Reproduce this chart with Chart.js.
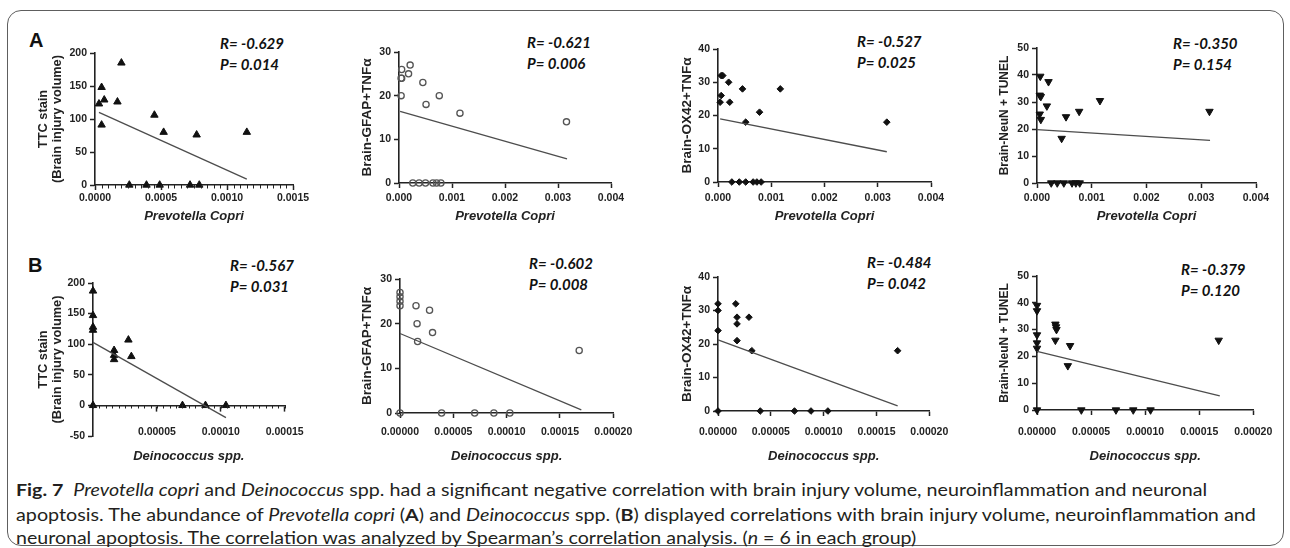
<!DOCTYPE html>
<html>
<head>
<meta charset="utf-8">
<script src="https://cdn.jsdelivr.net/npm/chart.js@4.4.1/dist/chart.umd.min.js"></script>
<style>
  body { margin: 0; width: 1290px; height: 548px; background: #fff; overflow: hidden; position: relative; }
  .frame { position: absolute; left: 7px; top: 10px; width: 1275px; height: 534px; border: 1.5px solid #5e5e5e; border-radius: 14px; }
  canvas { position: absolute; }
  .lbl { position: absolute; font: bold 20px 'Liberation Sans', Arial, sans-serif; line-height: 20px; color: #111; }
  .stat { position: absolute; font: italic bold 15px Lato, sans-serif; line-height: 16px; color: #111; white-space: nowrap; }
  .cap { position: absolute; left: 16px; font: 17.5px Lato, sans-serif; line-height: 20px; color: #231f20; white-space: nowrap; transform-origin: 0 50%; }
</style>
</head>
<body>
<div class="frame"></div>
<div class="lbl" style="left:29px;top:30px">A</div>
<div class="lbl" style="left:28px;top:255px">B</div>
<div id="stats"></div>
<div class="cap" data-w="1191" style="top:480px"><b>Fig. 7</b>&nbsp; <i>Prevotella copri</i> and <i>Deinococcus</i> spp. had a significant negative correlation with brain injury volume, neuroinflammation and neuronal</div>
<div class="cap" data-w="1240" style="top:505px">apoptosis. The abundance of <i>Prevotella copri</i> (<b>A</b>) and <i>Deinococcus</i> spp. (<b>B</b>) displayed correlations with brain injury volume, neuroinflammation and</div>
<div class="cap" data-w="900" style="top:528px">neuronal apoptosis. The correlation was analyzed by Spearman’s correlation analysis. (<i>n</i> = 6 in each group)</div>
<script>
// values

// A: Prevotella copri
const aTtcX = [0.00003, 0.00005, 0.00007, 0.00005, 0.00017, 0.0002, 0.00045, 0.00052, 0.00077, 0.00115, 0.00026, 0.00039, 0.00049, 0.00072, 0.00079];
const aTtcY = [123, 148, 129, 91, 126, 185, 106, 80, 76, 80, 0, 0, 0, 0, 0];
const aTtcFitX = [0.00003, 0.00115];
const aTtcFitY = [110, 9];

const aGfapX = [0.00005, 0.00004, 0.00005, 0.00004, 0.00021, 0.00018, 0.00045, 0.00051, 0.00076, 0.00115, 0.00316, 0.00026, 0.00038, 0.0005, 0.00064, 0.00071, 0.00079];
const aGfapY = [26, 24, 24, 20, 27, 25, 23, 18, 20, 16, 14, 0, 0, 0, 0, 0, 0];
const aGfapFitX = [0.00002, 0.00317];
const aGfapFitY = [16.4, 5.5];

const aOx42X = [0.00006, 0.00009, 0.00006, 0.00004, 0.0002, 0.00022, 0.00046, 0.00052, 0.00078, 0.00117, 0.00317, 0.00026, 0.0004, 0.00052, 0.00066, 0.00073, 0.00081];
const aOx42Y = [32, 32, 26, 24, 30, 24, 28, 18, 21, 28, 18, 0, 0, 0, 0, 0, 0];
const aOx42FitX = [0.00004, 0.00317];
const aOx42FitY = [19, 9.1];

const aNeunX = [0.00006, 0.00005, 0.00007, 0.00005, 0.00007, 0.00021, 0.00018, 0.00045, 0.00053, 0.00077, 0.00115, 0.00315, 0.00026, 0.00037, 0.00049, 0.00064, 0.00071, 0.00078];
const aNeunY = [39.5, 32.5, 32, 25.5, 23.5, 37.5, 28.5, 16.5, 24.5, 26.5, 30.5, 26.5, 0, 0, 0, 0, 0, 0];
const aNeunFitX = [0, 0.00316];
const aNeunFitY = [19.8, 15.8];

// B: Deinococcus spp.
const bTtcX = [0, 0, 0, 0, 0.0000165, 0.0000165, 0.0000165, 0.0000277, 0.00003, 0, 0.00007, 0.000088, 0.000104];
const bTtcY = [187, 147, 128, 123, 90, 82, 75, 107, 80, 0, 0, 0, 0];
const bTtcFitX = [0, 0.000104];
const bTtcFitY = [103, -20];

const bGfapX = [0, 0, 0, 0, 0.000015, 0.000016, 0.0000165, 0.0000277, 0.0000305, 0.000168, 0, 0.000039, 0.00007, 0.000088, 0.000103];
const bGfapY = [27, 26, 25, 24, 24, 20, 16, 23, 18, 14, 0, 0, 0, 0, 0];
const bGfapFitX = [0, 0.00017];
const bGfapFitY = [17.8, 0.7];

const bOx42X = [0, 0, 0, 0.0000168, 0.000018, 0.000018, 0.000018, 0.0000293, 0.000032, 0.00017, 0, 0.00004, 0.0000724, 0.000088, 0.000104];
const bOx42Y = [32, 30, 24, 32, 28, 26, 21, 28, 18, 18, 0, 0, 0, 0, 0];
const bOx42FitX = [0, 0.00017];
const bOx42FitY = [21.2, 1.5];

const bNeunX = [0, 0, 0, 0, 0, 0.000017, 0.0000176, 0.000018, 0.000017, 0.0000306, 0.0000285, 0.000168, 0, 0.000041, 0.000073, 0.000089, 0.000105];
const bNeunY = [39, 37, 28, 25, 23, 32, 31, 30, 26, 24, 16.5, 26, 0, 0, 0, 0, 0];
const bNeunFitX = [0, 0.000169];
const bNeunFitY = [21.9, 5.3];

// tick labels
const xTicksA1 = [0, 0.0005, 0.001, 0.0015];
const xTicksA = [0, 0.001, 0.002, 0.003, 0.004];
const xTicksB1 = [0.00005, 0.0001, 0.00015];
const xTicksB = [0, 0.00005, 0.0001, 0.00015, 0.0002];
const yTicksTtcA = [0, 50, 100, 150, 200];
const yTicksTtcB = [-50, 0, 50, 100, 150, 200];
const yTicksGfap = [0, 10, 20, 30];
const yTicksOx42 = [0, 10, 20, 30, 40];
const yTicksNeun = [0, 10, 20, 30, 40, 50];

// correlation labels
const rValues = ['-0.629', '-0.621', '-0.527', '-0.350', '-0.567', '-0.602', '-0.484', '-0.379'];
const pValues = ['0.014', '0.006', '0.025', '0.154', '0.031', '0.008', '0.042', '0.120'];

const AXIS = '#222';
const FONT = "'Liberation Sans', Arial, sans-serif";

const markers = {
  up: { pointStyle: 'triangle', pointRadius: 4.3, backgroundColor: '#111', borderColor: '#111', borderWidth: 1 },
  open: { pointStyle: 'circle', pointRadius: 3.1, backgroundColor: 'rgba(255,255,255,0)', borderColor: '#555', borderWidth: 1.3 },
  diamond: { pointStyle: 'rectRot', pointRadius: 3.3, backgroundColor: '#111', borderColor: '#111', borderWidth: 1 },
  down: { pointStyle: 'triangle', pointRotation: 180, pointRadius: 4.3, backgroundColor: '#111', borderColor: '#111', borderWidth: 1 }
};

// small minor ticks on the x axis (panels with TTC stain)
const minorTicks = {
  id: 'minorTicks',
  afterDraw(chart, args, opts) {
    if (!opts.step) return;
    const xs = chart.scales.x;
    const y0 = Math.round(chart.scales.y.getPixelForValue(0));
    const n = Math.round((xs.max - xs.min) / opts.step);
    const ctx = chart.ctx;
    ctx.save();
    ctx.strokeStyle = AXIS;
    ctx.lineWidth = 1;
    for (let i = 0; i <= n; i++) {
      const px = Math.round(xs.getPixelForValue(xs.min + i * opts.step)) + 0.5;
      ctx.beginPath();
      ctx.moveTo(px, y0);
      ctx.lineTo(px, y0 + 3.5);
      ctx.stroke();
    }
    ctx.restore();
  }
};

function panel(p) {
  const cv = document.createElement('canvas');
  cv.width = p.areaRight + 26 - p.left;
  cv.height = p.bottom - p.top;
  cv.style.left = p.left + 'px';
  cv.style.top = p.top + 'px';
  document.body.appendChild(cv);

  const padBottom = p.padBottom || 0;
  const xHeight = p.xHeight || (p.bottom - p.areaBottom);
  const yLh = p.yTitleSize * 1.15;
  new Chart(cv.getContext('2d'), {
    type: 'scatter',
    data: {
      datasets: [
        {
          data: p.fitX.map((x, i) => ({ x: x, y: p.fitY[i] })),
          showLine: true, pointRadius: 0, borderColor: '#4d4d4d', borderWidth: 1.3, clip: false
        },
        Object.assign({ data: p.xs.map((x, i) => ({ x: x, y: p.ys[i] })), clip: false }, markers[p.marker])
      ]
    },
    options: {
      responsive: false,
      animation: false,
      devicePixelRatio: 1,
      layout: { padding: { top: p.areaTop - p.top, right: 26, left: 0, bottom: padBottom } },
      plugins: {
        legend: { display: false },
        tooltip: { enabled: false },
        minorTicks: { step: p.minor || 0 }
      },
      scales: {
        x: {
          type: 'linear',
          position: p.xAtZero ? { y: 0 } : 'bottom',
          min: 0,
          max: p.xTicks[p.xTicks.length - 1],
          afterBuildTicks: s => { s.ticks = p.xTicks.map(v => ({ value: v })); },
          afterFit: s => { s.height = xHeight; },
          ticks: {
            padding: p.xPad, maxRotation: 0, autoSkip: false, color: AXIS,
            font: { family: FONT, size: 10.5, weight: 'bold' },
            callback: v => v.toFixed(p.digits)
          },
          grid: { drawOnChartArea: false, color: AXIS, tickLength: 5, tickWidth: 1.5 },
          border: { color: AXIS, width: 1.6 },
          title: {
            display: true, text: p.xTitle, color: AXIS,
            font: { family: FONT, size: 13, weight: 'bold', style: 'italic', lineHeight: 1.15 },
            padding: { top: 0, bottom: p.xTitlePad }
          }
        },
        y: {
          type: 'linear',
          position: 'left',
          min: p.yTicks[0],
          max: p.yTicks[p.yTicks.length - 1],
          afterBuildTicks: s => { s.ticks = p.yTicks.map(v => ({ value: v })); },
          afterFit: s => { s.width = p.axisX - p.left; },
          ticks: { padding: 3, color: AXIS, font: { family: FONT, size: 10.5, weight: 'bold' } },
          grid: { drawOnChartArea: false, color: AXIS, tickLength: 5, tickWidth: 1.5 },
          border: { color: AXIS, width: 1.6 },
          title: {
            display: true, text: p.yTitle, color: AXIS,
            font: { family: FONT, size: p.yTitleSize, weight: 'bold', lineHeight: 1.15 },
            padding: { top: p.yTitleX - p.left - yLh / 2, bottom: 0 }
          }
        }
      }
    },
    plugins: [minorTicks]
  });
}

// Row A
panel({ left: 30, top: 30, bottom: 225, axisX: 95, areaTop: 53, areaBottom: 185, areaRight: 293,
  xs: aTtcX, ys: aTtcY, fitX: aTtcFitX, fitY: aTtcFitY, xTicks: xTicksA1, yTicks: yTicksTtcA, digits: 4,
  marker: 'up', minor: 0.00005, xPad: 1.7, xTitlePad: 1.5, xTitle: 'Prevotella Copri',
  yTitle: ['TTC stain', '(Brain injury volume)'], yTitleSize: 12.8, yTitleX: 43 });
panel({ left: 350, top: 30, bottom: 225, axisX: 399, areaTop: 52, areaBottom: 183, areaRight: 611,
  xs: aGfapX, ys: aGfapY, fitX: aGfapFitX, fitY: aGfapFitY, xTicks: xTicksA, yTicks: yTicksGfap, digits: 3,
  marker: 'open', xPad: 3.7, xTitlePad: 1.5, xTitle: 'Prevotella Copri',
  yTitle: 'Brain-GFAP+TNFα', yTitleSize: 13.5, yTitleX: 367 });
panel({ left: 670, top: 30, bottom: 225, axisX: 718, areaTop: 49, areaBottom: 182, areaRight: 931,
  xs: aOx42X, ys: aOx42Y, fitX: aOx42FitX, fitY: aOx42FitY, xTicks: xTicksA, yTicks: yTicksOx42, digits: 3,
  marker: 'diamond', xPad: 4.7, xTitlePad: 1.5, xTitle: 'Prevotella Copri',
  yTitle: 'Brain-OX42+TNFα', yTitleSize: 13.5, yTitleX: 687 });
panel({ left: 988, top: 30, bottom: 225, axisX: 1037, areaTop: 48, areaBottom: 183, areaRight: 1256,
  xs: aNeunX, ys: aNeunY, fitX: aNeunFitX, fitY: aNeunFitY, xTicks: xTicksA, yTicks: yTicksNeun, digits: 3,
  marker: 'down', xPad: 3.7, xTitlePad: 1.5, xTitle: 'Prevotella Copri',
  yTitle: 'Brain-NeuN + TUNEL', yTitleSize: 12, yTitleX: 1005 });

// Row B (first panel: x axis crosses at y = 0, axis runs down to -50)
panel({ left: 30, top: 255, bottom: 466, axisX: 93, areaTop: 283, areaBottom: 436, areaRight: 293,
  padBottom: 30, xHeight: 61,
  xs: bTtcX, ys: bTtcY, fitX: bTtcFitX, fitY: bTtcFitY, xTicks: xTicksB1, yTicks: yTicksTtcB, digits: 5,
  marker: 'up', minor: 0.000005, xAtZero: true, xPad: 15.3, xTitlePad: 2.9, xTitle: 'Deinococcus spp.',
  yTitle: ['TTC stain', '(Brain injury volume)'], yTitleSize: 12.8, yTitleX: 43 });
panel({ left: 350, top: 255, bottom: 466, axisX: 400, areaTop: 279, areaBottom: 413, areaRight: 614,
  xs: bGfapX, ys: bGfapY, fitX: bGfapFitX, fitY: bGfapFitY, xTicks: xTicksB, yTicks: yTicksGfap, digits: 5,
  marker: 'open', xPad: 7.7, xTitlePad: 2.5, xTitle: 'Deinococcus spp.',
  yTitle: 'Brain-GFAP+TNFα', yTitleSize: 13.5, yTitleX: 367 });
panel({ left: 670, top: 255, bottom: 466, axisX: 718, areaTop: 277, areaBottom: 411, areaRight: 932,
  xs: bOx42X, ys: bOx42Y, fitX: bOx42FitX, fitY: bOx42FitY, xTicks: xTicksB, yTicks: yTicksOx42, digits: 5,
  marker: 'diamond', xPad: 9.7, xTitlePad: 2.5, xTitle: 'Deinococcus spp.',
  yTitle: 'Brain-OX42+TNFα', yTitleSize: 13.5, yTitleX: 687 });
panel({ left: 988, top: 255, bottom: 466, axisX: 1037, areaTop: 276, areaBottom: 410, areaRight: 1257,
  xs: bNeunX, ys: bNeunY, fitX: bNeunFitX, fitY: bNeunFitY, xTicks: xTicksB, yTicks: yTicksNeun, digits: 5,
  marker: 'down', xPad: 10.7, xTitlePad: 2.5, xTitle: 'Deinococcus spp.',
  yTitle: 'Brain-NeuN + TUNEL', yTitleSize: 12, yTitleX: 1005 });

// R / P annotations (left x, R centre y; P sits ~21px lower)
const statPos = [[220, 43], [527, 42], [857, 41], [1173, 43], [230, 265], [529, 263], [867, 262], [1181, 269]];
const stats = document.getElementById('stats');
statPos.forEach((pos, i) => {
  const r = document.createElement('div');
  r.className = 'stat';
  r.style.left = pos[0] + 'px';
  r.style.top = (pos[1] - 8) + 'px';
  r.textContent = 'R= ' + rValues[i];
  stats.appendChild(r);
  const pp = document.createElement('div');
  pp.className = 'stat';
  pp.style.left = pos[0] + 'px';
  pp.style.top = (pos[1] + 13) + 'px';
  pp.textContent = 'P= ' + pValues[i];
  stats.appendChild(pp);
});

// fit caption lines to the reference widths
document.querySelectorAll('.cap').forEach(el => {
  el.style.transform = 'scaleX(' + (+el.dataset.w / el.offsetWidth) + ')';
});
</script>
</body>
</html>
